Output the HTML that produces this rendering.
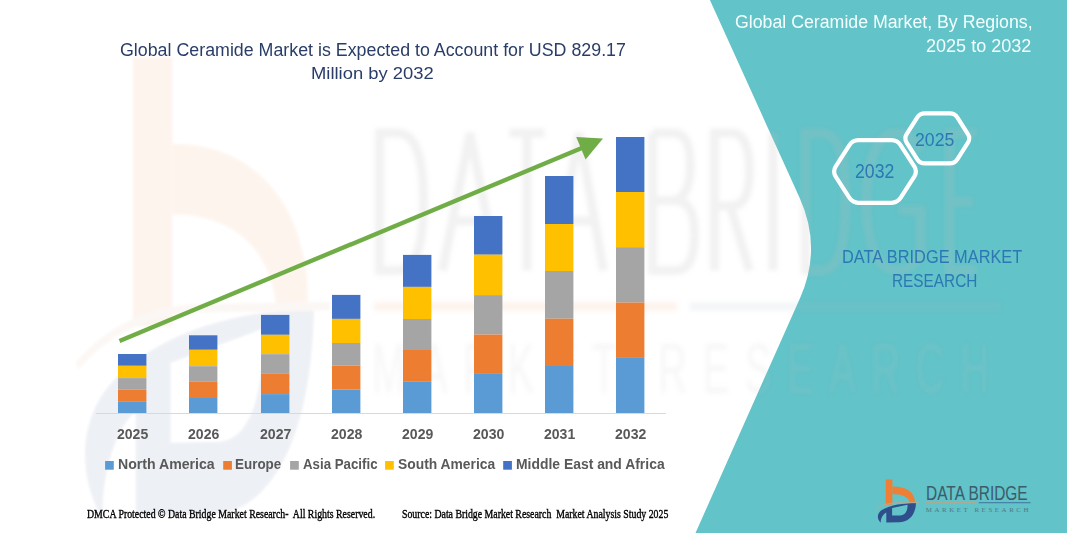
<!DOCTYPE html>
<html><head><meta charset="utf-8">
<style>
html,body{margin:0;padding:0;}
body{width:1067px;height:533px;position:relative;overflow:hidden;background:#fff;font-family:"Liberation Sans",sans-serif;}
svg.full{position:absolute;left:0;top:0;}
</style></head><body>
<svg class="full" width="1067" height="533" viewBox="0 0 1067 533">
<defs><filter id="wmblur" x="-10%" y="-10%" width="120%" height="120%"><feGaussianBlur stdDeviation="1.2"/></filter><filter id="wmblur2" x="-10%" y="-10%" width="120%" height="120%"><feGaussianBlur stdDeviation="2.2"/></filter></defs>
<path d="M709.9,0 L1067,0 L1067,533 L695.5,533 L800.2,297.8 Q822.2,247.8 799.6,197.8 Z" fill="#62C3C8"/>
<g opacity="0.08" filter="url(#wmblur)"><g transform="translate(374,128) scale(6.0,10.67)"><path d="M-40.2,-6.6 H-33.6 V18.6 H-40.2 Z" fill="#F07F36"/><path d="M-33.6,1.5 C-22,1.3 -11,6.0 -11,16.3 L-16.3,16.6 C-17.5,11 -24,8.1 -33.6,8.1 Z" fill="#F07F36"/><path fill-rule="evenodd" d="M-10,17 C-22,17 -36,19 -44.1,24.1 C-48.5,27 -50,32 -45.2,36.7 C-45.5,33 -43.5,28.5 -39.7,26.5 L-39.7,36.4 L-26.8,36.2 C-18,36 -10.5,30 -10,17 Z M-33.9,22 L-18.4,18.8 C-18.4,24 -20,29.3 -26,29.4 L-33.9,29.5 Z" fill="#2F4E8C"/><path d="M-49.5,22.3 Q-42,17.4 -30,16.9 L-7.4,16.7" fill="none" stroke="#D4A27C" stroke-width="0.8"/><g opacity="0.8"></g></g></g>
<g filter="url(#wmblur2)"><g opacity="0.2" fill="none" stroke="#BDBDBD" stroke-width="9"><path d="M379.5,133.1 H397.1 C416.9,133.1 423.5,160.6 423.5,201.8 C423.5,243.0 416.9,270.5 397.1,270.5 H379.5 Z"/><path d="M442.5,270.5 L470.0,133.1 L497.5,270.5 M454.6,221.0 H485.4 "/><path d="M509.5,133.1 H544.5 M527.0,133.1 V270.5 "/><path d="M554.5,270.5 L579.0,133.1 L603.5,270.5 M565.3,221.0 H592.7 "/><path d="M652.5,133.1 V270.5 H675.6 C690.3,270.5 694.5,254.0 694.5,234.8 C694.5,212.8 689.5,200.4 673.5,200.4 H652.5 M673.5,200.4 C686.9,197.7 690.3,183.9 690.3,166.1 C690.3,145.5 686.1,133.1 673.5,133.1 H652.5 "/><path d="M714.5,270.5 V133.1 H732.0 C745.3,133.1 749.5,151.0 749.5,170.2 C749.5,190.8 745.3,205.9 732.0,205.9 H714.5 M730.2,205.9 L749.5,270.5 "/><path d="M773.0,133.1 V270.5 "/><path d="M805.5,133.1 H821.5 C839.5,133.1 845.5,160.6 845.5,201.8 C845.5,243.0 839.5,270.5 821.5,270.5 H805.5 Z"/><path d="M920.5,151.0 C914.0,137.2 907.0,133.1 896.7,133.1 C877.3,133.1 866.5,160.6 866.5,201.8 C866.5,243.0 877.3,270.5 896.7,270.5 C909.7,270.5 917.8,260.9 920.5,254.0 V210.0 H898.9 "/><path d="M976.5,133.1 H949.5 V270.5 H976.5 M949.5,201.8 H972.5 "/></g><g opacity="0.13" transform="translate(374,128) scale(6.0,10.67)"><text x="-0.3" y="24.8" font-family="Liberation Sans" font-size="6.6" fill="#BDBDBD" textLength="102.8" lengthAdjust="spacing">MARKET  RESEARCH</text></g><rect x="374" y="302" width="303" height="9" fill="#F0B890" opacity="0.16"/><rect x="690" y="302" width="311" height="9" fill="#A8B8C8" opacity="0.13"/></g>
<g opacity="1"><g transform="translate(926,486) scale(1,1)"><path d="M-40.2,-6.6 H-33.6 V18.6 H-40.2 Z" fill="#F07F36"/><path d="M-33.6,0.5 C-22,0.3 -11,5.0 -11,16.3 L-16.3,16.6 C-17.5,11 -24,8.1 -33.6,8.1 Z" fill="#F07F36"/><path fill-rule="evenodd" d="M-10,17 C-22,17 -36,19 -44.1,24.1 C-48.5,27 -50,32 -45.2,36.7 C-45.5,33 -43.5,28.5 -39.7,26.5 L-39.7,36.4 L-26.8,36.2 C-18,36 -10.5,30 -10,17 Z M-33.9,22 L-18.4,18.8 C-18.4,24 -20,29.3 -26,29.4 L-33.9,29.5 Z" fill="#2F4E8C"/><path d="M-49.5,22.3 Q-42,17.4 -30,16.9 L-7.4,16.7" fill="none" stroke="#D4A27C" stroke-width="0.8"/><rect x="0" y="16.3" width="50.5" height="0.9" fill="#C9A27E"/><rect x="52.7" y="16.3" width="51.8" height="0.9" fill="#3D6A9A"/><g opacity="1.0"><text x="0" y="13.5" font-family="Liberation Sans" font-size="19.6" fill="#3C5C6C" textLength="101.7" lengthAdjust="spacingAndGlyphs">DATA BRIDGE</text><text x="-0.3" y="25.5" font-family="Liberation Serif" font-size="6.9" fill="#557585" textLength="102.8" lengthAdjust="spacing">MARKET  RESEARCH</text></g></g></g>
<rect x="96" y="413" width="570" height="1" fill="#D9D9D9"/>
<rect x="118.00" y="354.00" width="28.4" height="11.80" fill="#4472C4"/>
<rect x="118.00" y="365.80" width="28.4" height="12.30" fill="#FFC000"/>
<rect x="118.00" y="378.10" width="28.4" height="11.50" fill="#A5A5A5"/>
<rect x="118.00" y="389.60" width="28.4" height="12.20" fill="#ED7D31"/>
<rect x="118.00" y="401.80" width="28.4" height="11.20" fill="#5B9BD5"/>
<rect x="189.00" y="335.30" width="28.4" height="14.50" fill="#4472C4"/>
<rect x="189.00" y="349.80" width="28.4" height="16.40" fill="#FFC000"/>
<rect x="189.00" y="366.20" width="28.4" height="15.60" fill="#A5A5A5"/>
<rect x="189.00" y="381.80" width="28.4" height="16.20" fill="#ED7D31"/>
<rect x="189.00" y="398.00" width="28.4" height="15.00" fill="#5B9BD5"/>
<rect x="261.00" y="314.90" width="28.4" height="19.90" fill="#4472C4"/>
<rect x="261.00" y="334.80" width="28.4" height="19.40" fill="#FFC000"/>
<rect x="261.00" y="354.20" width="28.4" height="19.60" fill="#A5A5A5"/>
<rect x="261.00" y="373.80" width="28.4" height="20.30" fill="#ED7D31"/>
<rect x="261.00" y="394.10" width="28.4" height="18.90" fill="#5B9BD5"/>
<rect x="332.00" y="294.90" width="28.4" height="24.00" fill="#4472C4"/>
<rect x="332.00" y="318.90" width="28.4" height="24.10" fill="#FFC000"/>
<rect x="332.00" y="343.00" width="28.4" height="22.70" fill="#A5A5A5"/>
<rect x="332.00" y="365.70" width="28.4" height="23.90" fill="#ED7D31"/>
<rect x="332.00" y="389.60" width="28.4" height="23.40" fill="#5B9BD5"/>
<rect x="403.00" y="254.90" width="28.4" height="32.00" fill="#4472C4"/>
<rect x="403.00" y="286.90" width="28.4" height="32.10" fill="#FFC000"/>
<rect x="403.00" y="319.00" width="28.4" height="31.00" fill="#A5A5A5"/>
<rect x="403.00" y="350.00" width="28.4" height="31.80" fill="#ED7D31"/>
<rect x="403.00" y="381.80" width="28.4" height="31.20" fill="#5B9BD5"/>
<rect x="474.00" y="216.00" width="28.4" height="38.70" fill="#4472C4"/>
<rect x="474.00" y="254.70" width="28.4" height="40.40" fill="#FFC000"/>
<rect x="474.00" y="295.10" width="28.4" height="39.50" fill="#A5A5A5"/>
<rect x="474.00" y="334.60" width="28.4" height="39.30" fill="#ED7D31"/>
<rect x="474.00" y="373.90" width="28.4" height="39.10" fill="#5B9BD5"/>
<rect x="545.00" y="176.00" width="28.4" height="48.00" fill="#4472C4"/>
<rect x="545.00" y="224.00" width="28.4" height="47.00" fill="#FFC000"/>
<rect x="545.00" y="271.00" width="28.4" height="47.70" fill="#A5A5A5"/>
<rect x="545.00" y="318.70" width="28.4" height="47.30" fill="#ED7D31"/>
<rect x="545.00" y="366.00" width="28.4" height="47.00" fill="#5B9BD5"/>
<rect x="616.00" y="137.00" width="28.4" height="55.00" fill="#4472C4"/>
<rect x="616.00" y="192.00" width="28.4" height="55.20" fill="#FFC000"/>
<rect x="616.00" y="247.20" width="28.4" height="55.40" fill="#A5A5A5"/>
<rect x="616.00" y="302.60" width="28.4" height="55.30" fill="#ED7D31"/>
<rect x="616.00" y="357.90" width="28.4" height="55.10" fill="#5B9BD5"/>
<line x1="119.5" y1="341.0" x2="586" y2="146.3" stroke="#70AD47" stroke-width="4.4"/>
<polygon points="603,138.6 576.2,136.9 585.6,159.4" fill="#70AD47"/>
<rect x="105.1" y="461" width="8.7" height="8.7" fill="#5B9BD5"/>
<rect x="223.2" y="461" width="8.7" height="8.7" fill="#ED7D31"/>
<rect x="290.1" y="461" width="8.7" height="8.7" fill="#A5A5A5"/>
<rect x="385.1" y="461" width="8.7" height="8.7" fill="#FFC000"/>
<rect x="503.2" y="461" width="8.7" height="8.7" fill="#4472C4"/>
<path d="M835.73,166.44 L849.27,145.26 Q852.50,140.20 858.50,140.20 L891.50,140.20 Q897.50,140.20 900.73,145.26 L914.27,166.44 Q917.50,171.50 914.27,176.56 L900.73,197.74 Q897.50,202.80 891.50,202.80 L858.50,202.80 Q852.50,202.80 849.27,197.74 L835.73,176.56 Q832.50,171.50 835.73,166.44 Z" fill="none" stroke="#fff" stroke-width="4.2"/>
<path d="M906.67,134.07 L917.13,117.53 Q919.80,113.30 924.80,113.30 L949.80,113.30 Q954.80,113.30 957.47,117.53 L967.93,134.07 Q970.60,138.30 967.93,142.53 L957.47,159.07 Q954.80,163.30 949.80,163.30 L924.80,163.30 Q919.80,163.30 917.13,159.07 L906.67,142.53 Q904.00,138.30 906.67,134.07 Z" fill="none" stroke="#fff" stroke-width="4.2"/>
</svg>
<div style="position:absolute;left:119.90px;top:39.73px;font-family:'Liberation Sans',sans-serif;font-weight:normal;font-size:19.16px;line-height:19.16px;color:#2A3D68;white-space:pre;transform-origin:0 0;transform:scaleX(0.9298);">Global Ceramide Market is Expected to Account for USD 829.17</div>
<div style="position:absolute;left:311.07px;top:64.86px;font-family:'Liberation Sans',sans-serif;font-weight:normal;font-size:17.26px;line-height:17.26px;color:#2A3D68;white-space:pre;transform-origin:0 0;transform:scaleX(1.0664);">Million by 2032</div>
<div style="position:absolute;left:116.61px;top:426.86px;font-family:'Liberation Sans',sans-serif;font-weight:bold;font-size:14.10px;line-height:14.10px;color:#595959;white-space:pre;transform-origin:0 0;transform:scaleX(0.9957);">2025</div>
<div style="position:absolute;left:187.61px;top:426.86px;font-family:'Liberation Sans',sans-serif;font-weight:bold;font-size:14.10px;line-height:14.10px;color:#595959;white-space:pre;transform-origin:0 0;transform:scaleX(0.9975);">2026</div>
<div style="position:absolute;left:259.61px;top:426.86px;font-family:'Liberation Sans',sans-serif;font-weight:bold;font-size:14.10px;line-height:14.10px;color:#595959;white-space:pre;transform-origin:0 0;transform:scaleX(0.9997);">2027</div>
<div style="position:absolute;left:330.58px;top:426.86px;font-family:'Liberation Sans',sans-serif;font-weight:bold;font-size:14.10px;line-height:14.10px;color:#595959;white-space:pre;transform-origin:0 0;transform:scaleX(1.0013);">2028</div>
<div style="position:absolute;left:401.61px;top:426.86px;font-family:'Liberation Sans',sans-serif;font-weight:bold;font-size:14.10px;line-height:14.10px;color:#595959;white-space:pre;transform-origin:0 0;transform:scaleX(0.9975);">2029</div>
<div style="position:absolute;left:472.61px;top:426.86px;font-family:'Liberation Sans',sans-serif;font-weight:bold;font-size:14.10px;line-height:14.10px;color:#595959;white-space:pre;transform-origin:0 0;transform:scaleX(0.9988);">2030</div>
<div style="position:absolute;left:543.61px;top:426.86px;font-family:'Liberation Sans',sans-serif;font-weight:bold;font-size:14.10px;line-height:14.10px;color:#595959;white-space:pre;transform-origin:0 0;transform:scaleX(0.9948);">2031</div>
<div style="position:absolute;left:614.61px;top:426.86px;font-family:'Liberation Sans',sans-serif;font-weight:bold;font-size:14.10px;line-height:14.10px;color:#595959;white-space:pre;transform-origin:0 0;transform:scaleX(0.9975);">2032</div>
<div style="position:absolute;left:117.96px;top:458.24px;font-family:'Liberation Sans',sans-serif;font-weight:bold;font-size:13.73px;line-height:13.73px;color:#595959;white-space:pre;transform-origin:0 0;transform:scaleX(1.0283);">North America</div>
<div style="position:absolute;left:235.45px;top:458.34px;font-family:'Liberation Sans',sans-serif;font-weight:bold;font-size:13.73px;line-height:13.73px;color:#595959;white-space:pre;transform-origin:0 0;transform:scaleX(0.9787);">Europe</div>
<div style="position:absolute;left:303.12px;top:458.28px;font-family:'Liberation Sans',sans-serif;font-weight:bold;font-size:13.76px;line-height:13.76px;color:#595959;white-space:pre;transform-origin:0 0;transform:scaleX(0.9656);">Asia Pacific</div>
<div style="position:absolute;left:397.68px;top:458.32px;font-family:'Liberation Sans',sans-serif;font-weight:bold;font-size:13.88px;line-height:13.88px;color:#595959;white-space:pre;transform-origin:0 0;transform:scaleX(0.9970);">South America</div>
<div style="position:absolute;left:516.08px;top:458.25px;font-family:'Liberation Sans',sans-serif;font-weight:bold;font-size:13.86px;line-height:13.86px;color:#595959;white-space:pre;transform-origin:0 0;transform:scaleX(1.0033);">Middle East and Africa</div>
<div style="position:absolute;left:87.01px;top:508.72px;font-family:'Liberation Serif',serif;font-weight:normal;font-size:11.82px;line-height:11.82px;color:#000;white-space:pre;transform-origin:0 0;transform:scaleX(0.8329);-webkit-text-stroke:0.35px #000;">DMCA Protected © Data Bridge Market Research-  All Rights Reserved.</div>
<div style="position:absolute;left:401.95px;top:508.89px;font-family:'Liberation Serif',serif;font-weight:normal;font-size:11.50px;line-height:11.50px;color:#000;white-space:pre;transform-origin:0 0;transform:scaleX(0.8534);-webkit-text-stroke:0.35px #000;">Source: Data Bridge Market Research  Market Analysis Study 2025</div>
<div style="position:absolute;left:735.01px;top:13.15px;font-family:'Liberation Sans',sans-serif;font-weight:normal;font-size:18.41px;line-height:18.41px;color:#F4FFFF;white-space:pre;transform-origin:0 0;transform:scaleX(0.9634);">Global Ceramide Market, By Regions,</div>
<div style="position:absolute;left:926.44px;top:37.09px;font-family:'Liberation Sans',sans-serif;font-weight:normal;font-size:18.68px;line-height:18.68px;color:#F4FFFF;white-space:pre;transform-origin:0 0;transform:scaleX(0.9658);">2025 to 2032</div>
<div style="position:absolute;left:855.15px;top:162.23px;font-family:'Liberation Sans',sans-serif;font-weight:normal;font-size:19.81px;line-height:19.81px;color:#2D78B3;white-space:pre;transform-origin:0 0;transform:scaleX(0.8913);">2032</div>
<div style="position:absolute;left:914.54px;top:130.67px;font-family:'Liberation Sans',sans-serif;font-weight:normal;font-size:18.94px;line-height:18.94px;color:#2D78B3;white-space:pre;transform-origin:0 0;transform:scaleX(0.9324);">2025</div>
<div style="position:absolute;left:842.10px;top:248.35px;font-family:'Liberation Sans',sans-serif;font-weight:normal;font-size:18.87px;line-height:18.87px;color:#2D78B3;white-space:pre;transform-origin:0 0;transform:scaleX(0.8673);">DATA BRIDGE MARKET</div>
<div style="position:absolute;left:891.96px;top:272.41px;font-family:'Liberation Sans',sans-serif;font-weight:normal;font-size:18.01px;line-height:18.01px;color:#2D78B3;white-space:pre;transform-origin:0 0;transform:scaleX(0.8532);">RESEARCH</div>
</body></html>
